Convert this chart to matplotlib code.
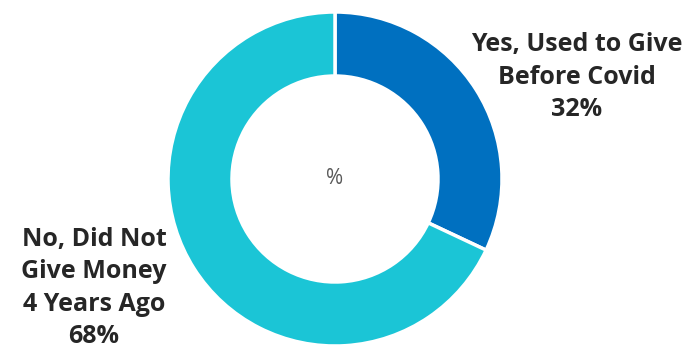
import matplotlib.pyplot as plt

labels = ['Yes, Used to Give\nBefore Covid', 'No, Did Not\nGive Money\n4 Years Ago']
shares = [32, 68]
colors = ['#0070C0', '#1BC5D6']

fig = plt.figure(figsize=(6.85, 3.51), dpi=100)
ax = fig.add_axes([0, 0, 1, 1])

ax.pie(shares, colors=colors, startangle=90, counterclock=False,
       center=(335, 172), radius=167, frame=True,
       wedgeprops=dict(width=64, edgecolor='white', linewidth=2.5))
ax.set_xlim(0, 685)
ax.set_ylim(0, 351)
ax.set_aspect('equal')
ax.axis('off')

ax.text(335, 172, '%', ha='center', va='center', fontsize=15,
        color='#595959', family='Open Sans')

pos = [(577, 274), (94, 63)]
for lab, v, (x, y) in zip(labels, shares, pos):
    ax.text(x, y, f'{lab}\n{v}%', ha='center', va='center', fontsize=18,
            fontweight='bold', color='#262626', family='Open Sans', linespacing=1.38)

fig.savefig('out.png', dpi=100)
